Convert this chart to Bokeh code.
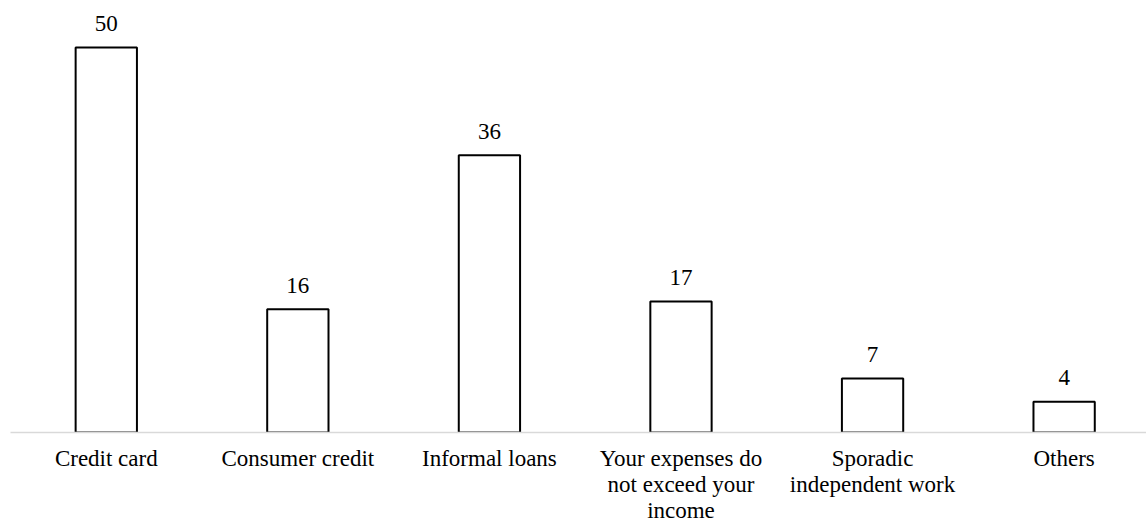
from bokeh.plotting import figure
from bokeh.models import ColumnDataSource, Range1d, FixedTicker
from bokeh.core.properties import value
from bokeh.embed import file_html
from bokeh.resources import INLINE

categories = ["Credit card", "Consumer credit", "Informal loans",
              "Your expenses do\nnot exceed your\nincome",
              "Sporadic\nindependent work", "Others"]
values = [50, 16, 36, 17, 7, 4]

xs = list(range(len(categories)))
src = ColumnDataSource(dict(x=xs, top=values, label=[str(v) for v in values]))

FONT = "Liberation Serif"

p = figure(frame_width=1136, frame_height=432, output_backend="svg",
           toolbar_location=None, x_range=Range1d(-0.5, 5.43), y_range=Range1d(0, 56.1))
p.min_border_left = 10
p.min_border_right = 0
p.min_border_top = 0
p.min_border_bottom = 0
p.outline_line_color = None
p.background_fill_color = "white"
p.border_fill_color = "white"
p.xgrid.visible = False
p.ygrid.visible = False
p.yaxis.visible = False

p.vbar(x="x", top="top", bottom=0, width=0.32, source=src,
       fill_color="white", line_color="black", line_width=2)
p.text(x="x", y="top", text="label", source=src, text_align="center",
       text_baseline="alphabetic", y_offset=-24, text_font=value(FONT),
       text_font_size="23px", text_color="black")

ax = p.xaxis[0]
ax.ticker = FixedTicker(ticks=xs)
ax.major_label_overrides = {i: c for i, c in zip(xs, categories)}
ax.axis_line_color = "#d9d9d9"
ax.axis_line_width = 1.5
ax.major_tick_line_color = None
ax.minor_tick_line_color = None
ax.major_tick_out = 0
ax.major_tick_in = 0
ax.major_label_standoff = 13
ax.major_label_text_font = FONT
ax.major_label_text_font_size = "23px"
ax.major_label_text_color = "black"
ax.major_label_text_line_height = 1.05

open("out.html", "w").write(file_html(p, INLINE))
